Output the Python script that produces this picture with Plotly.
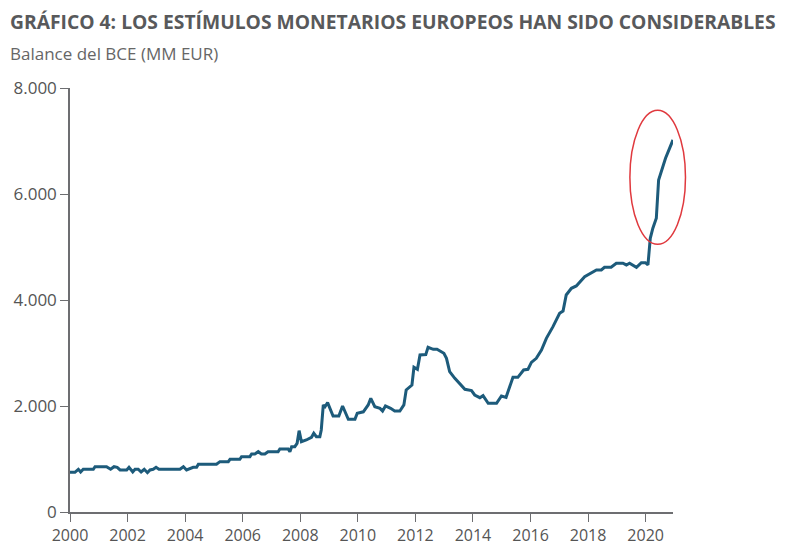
import plotly.graph_objects as go

years = [2000.00, 2000.17, 2000.29, 2000.37, 2000.46, 2000.81, 2000.87, 2001.27, 2001.41, 2001.53,
         2001.64, 2001.74, 2001.97, 2002.05, 2002.18, 2002.26, 2002.37, 2002.47, 2002.58, 2002.69,
         2002.78, 2002.89, 2002.99, 2003.09, 2003.82, 2003.94, 2004.05, 2004.17, 2004.28, 2004.40,
         2004.46, 2005.09, 2005.21, 2005.50, 2005.56, 2005.90, 2005.96, 2006.25, 2006.31, 2006.42,
         2006.54, 2006.65, 2006.77, 2006.88, 2007.23, 2007.29, 2007.58, 2007.64, 2007.70, 2007.81,
         2007.89, 2007.96, 2008.04, 2008.21, 2008.39, 2008.47, 2008.56, 2008.68, 2008.73, 2008.80,
         2008.86, 2008.95, 2009.14, 2009.34, 2009.47, 2009.67, 2009.90, 2009.98, 2010.19, 2010.36,
         2010.45, 2010.59, 2010.77, 2010.86, 2010.96, 2011.14, 2011.28, 2011.46, 2011.60, 2011.68,
         2011.88, 2011.95, 2012.07, 2012.16, 2012.36, 2012.44, 2012.62, 2012.75, 2012.88, 2012.99,
         2013.08, 2013.19, 2013.37, 2013.60, 2013.72, 2013.95, 2014.06, 2014.24, 2014.35, 2014.53,
         2014.82, 2014.99, 2015.15, 2015.39, 2015.56, 2015.76, 2015.91, 2016.03, 2016.20, 2016.38,
         2016.55, 2016.78, 2017.01, 2017.13, 2017.24, 2017.42, 2017.59, 2017.88, 2018.11, 2018.29,
         2018.46, 2018.57, 2018.80, 2018.98, 2019.21, 2019.33, 2019.44, 2019.68, 2019.85, 2019.99,
         2020.08, 2020.16, 2020.25, 2020.37, 2020.45, 2020.69, 2020.95]

balance = [749, 749, 806, 755, 806, 806, 855, 855, 806, 855,
           843, 793, 793, 843, 755, 806, 806, 755, 806, 742,
           793, 806, 843, 806, 806, 855, 793, 825, 843, 843,
           900, 900, 950, 950, 994, 994, 1044, 1044, 1094, 1094,
           1138, 1094, 1094, 1138, 1138, 1189, 1189, 1138, 1233, 1233,
           1296, 1535, 1327, 1359, 1410, 1485, 1422, 1422, 1548, 2019,
           1987, 2063, 1811, 1811, 2000, 1749, 1749, 1862, 1890, 2019,
           2145, 1987, 1956, 1906, 2000, 1956, 1906, 1906, 2020, 2302,
           2396, 2730, 2692, 2962, 2970, 3108, 3070, 3070, 3025, 2994,
           2900, 2648, 2522, 2378, 2315, 2290, 2208, 2157, 2195, 2051,
           2051, 2189, 2163, 2541, 2541, 2680, 2692, 2824, 2900, 3057,
           3277, 3497, 3749, 3790, 4095, 4221, 4265, 4440, 4504, 4566,
           4566, 4617, 4617, 4693, 4693, 4661, 4693, 4617, 4705, 4705,
           4661, 5165, 5354, 5542, 6265, 6674, 7020]

x_ticks = [2000, 2002, 2004, 2006, 2008, 2010, 2012, 2014, 2016, 2018, 2020]
y_ticks = [0, 2000, 4000, 6000, 8000]

title_text = "GRÁFICO 4: LOS ESTÍMULOS MONETARIOS EUROPEOS HAN SIDO CONSIDERABLES"
subtitle_text = "Balance del BCE (MM EUR)"

FONT = "Open Sans"
GRAY = "#58595b"

fig = go.Figure()
fig.add_trace(go.Scatter(x=years, y=balance, mode="lines",
                         line=dict(color="#1d5b7b", width=3), showlegend=False))

axis_common = dict(showgrid=False, zeroline=False, showline=True, linecolor="#6d6e71",
                   linewidth=1.5, ticks="outside", ticklen=8, tickcolor="#6d6e71",
                   automargin=False)

fig.update_layout(
    width=778, height=538,
    margin=dict(l=62, r=113, t=80, b=34, autoexpand=False),
    paper_bgcolor="white", plot_bgcolor="white",
    separators=",.",
    font=dict(family=FONT, color="#555555", size=16),
    xaxis=dict(range=[2000, 2020.95], tickvals=x_ticks, tickformat="d",
               ticklabelstandoff=0,
               tickfont=dict(family=FONT, size=16, color="#555555"), **axis_common),
    yaxis=dict(range=[0, 8000], tickvals=y_ticks, tickformat=",d",
               tickfont=dict(family=FONT, size=17, color="#555555"), **axis_common),
    annotations=[
        dict(text="<b>" + title_text + "</b>", xref="paper", yref="paper",
             x=-0.1028, y=1.1557, xanchor="left", yanchor="middle", showarrow=False,
             font=dict(family=FONT, size=19.3, color=GRAY)),
        dict(text=subtitle_text, xref="paper", yref="paper",
             x=-0.1028, y=1.0825, xanchor="left", yanchor="middle", showarrow=False,
             font=dict(family=FONT, size=17, color="#666666")),
    ],
    shapes=[
        dict(type="circle", xref="paper", yref="paper",
             x0=0.9285, x1=1.0207, y0=0.6314, y1=0.9474,
             line=dict(color="#e0393e", width=1.5)),
    ],
)

fig.write_html("out.html")
